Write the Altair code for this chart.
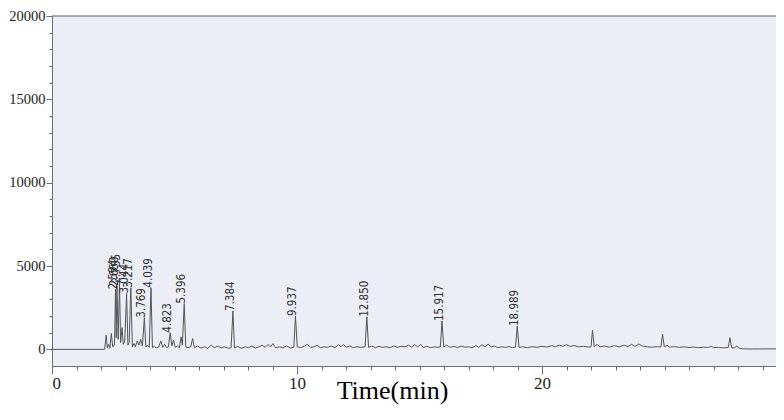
import altair as alt
import pandas as pd

# Labelled peaks (retention time, apex signal, printed label)
peak_rt = [2.594, 2.650, 2.755, 3.044, 3.217, 3.769, 4.039, 4.823, 5.396,
           7.384, 9.937, 12.850, 15.917, 18.989]
peak_height = [3600, 3800, 3950, 3350, 3700, 1900, 3700, 1000, 2750,
               2300, 2000, 1950, 1700, 1400]
peak_label = ["2.594", "2.650", "2.755", "3.044", "3.217", "3.769", "4.039",
              "4.823", "5.396", "7.384", "9.937", "12.850", "15.917", "18.989"]

# Remaining trace points (baseline, feet of peaks, small unlabelled peaks)
base_time = [0.0, 2.15, 2.21, 2.26, 2.31, 2.36, 2.42, 2.48, 2.55, 2.62, 2.70,
             2.80, 2.86, 2.91, 2.97, 3.10, 3.15, 3.28, 3.35, 3.40, 3.48, 3.55,
             3.62, 3.69, 3.83, 3.90, 3.97, 4.10, 4.18, 4.26, 4.36, 4.44, 4.52,
             4.60, 4.68, 4.75, 4.89, 4.96, 5.03, 5.12, 5.20, 5.27, 5.32, 5.46,
             5.55, 5.66, 5.74, 5.81, 5.95, 6.08, 6.22, 6.35, 6.50, 6.62, 6.78,
             6.90, 7.05, 7.20, 7.31, 7.45, 7.58, 7.72, 7.88, 8.02, 8.15, 8.30,
             8.45, 8.58, 8.70, 8.82, 8.92, 9.02, 9.12, 9.28, 9.42, 9.58, 9.72,
             9.87, 10.01, 10.15, 10.30, 10.42, 10.55, 10.70, 10.82, 10.95,
             11.10, 11.25, 11.40, 11.55, 11.70, 11.80, 11.90, 12.00, 12.15,
             12.30, 12.45, 12.60, 12.78, 12.92, 13.05, 13.20, 13.35, 13.50,
             13.65, 13.80, 13.95, 14.10, 14.25, 14.40, 14.55, 14.68, 14.80,
             14.92, 15.05, 15.15, 15.30, 15.45, 15.60, 15.75, 15.85, 15.99,
             16.10, 16.25, 16.40, 16.55, 16.70, 16.85, 17.00, 17.15, 17.30,
             17.42, 17.55, 17.68, 17.80, 17.92, 18.05, 18.20, 18.35, 18.50,
             18.65, 18.80, 18.92, 19.06, 19.20, 19.40, 19.60, 19.80, 20.00,
             20.20, 20.40, 20.55, 20.70, 20.85, 21.00, 21.15, 21.30, 21.50,
             21.70, 21.90, 22.00, 22.06, 22.13, 22.25, 22.35, 22.55, 22.75,
             22.95, 23.15, 23.35, 23.50, 23.65, 23.80, 23.95, 24.10, 24.30,
             24.50, 24.70, 24.85, 24.92, 24.99, 25.10, 25.20, 25.40, 25.60,
             25.80, 26.00, 26.20, 26.40, 26.60, 26.80, 26.90, 27.00, 27.20,
             27.40, 27.60, 27.67, 27.74, 27.85, 27.95, 28.05, 28.20, 28.60,
             29.55]
base_signal = [0, 0, 850, 80, 300, 60, 950, 150, 300, 700, 600,
               400, 1300, 300, 500, 250, 400, 150, 350, 150, 500, 250,
               600, 200, 150, 250, 120, 100, 180, 80, 150, 500, 120,
               300, 100, 150, 200, 550, 120, 200, 100, 750, 250, 150,
               100, 150, 650, 100, 200, 80, 150, 60, 250, 100, 200,
               80, 150, 60, 100, 80, 180, 60, 150, 100, 200, 80,
               150, 250, 120, 300, 150, 350, 100, 150, 100, 200, 80,
               120, 150, 100, 200, 300, 120, 150, 250, 100,
               150, 120, 200, 100, 280, 150, 300, 120, 200,
               100, 150, 120, 150, 120, 200, 100, 180, 120,
               150, 100, 200, 120, 180, 150, 250, 130, 280,
               150, 300, 120, 180, 100, 150, 120, 150, 130,
               250, 120, 180, 100, 200, 130, 150, 100, 220,
               120, 280, 150, 320, 140, 200, 100, 150, 120,
               160, 110, 130, 120, 150, 100, 160, 120, 180,
               140, 220, 160, 250, 180, 280, 170, 230, 150,
               180, 140, 150, 1150, 160, 300, 150, 200, 130,
               220, 150, 250, 160, 300, 180, 320, 200, 150,
               130, 160, 140, 900, 150, 250, 130, 160, 120,
               150, 110, 140, 100, 130, 110, 180, 100, 120,
               90, 110, 700, 100, 80, 200, 60, 30, 20,
               30]

y_ticks_major = [0, 5000, 10000, 15000, 20000]
y_ticks_minor = list(range(0, 20001, 1000))
x_ticks_major = [0, 10, 20]
x_ticks_minor = list(range(0, 30, 1))
top_frame = [20000]

trace = pd.DataFrame({"time": base_time + peak_rt,
                      "signal": base_signal + peak_height}).sort_values("time")
peaks = pd.DataFrame({"rt": peak_rt, "height": peak_height, "label": peak_label})
frame = pd.DataFrame({"v": top_frame})

xs = alt.Scale(domain=[0, 29.55], nice=False, zero=False)
ys = alt.Scale(domain=[-1000, 20000], nice=False, zero=False)

AX = "#6e6e78"
SERIF = "Liberation Serif"

x_major = alt.Axis(values=x_ticks_major, orient="bottom", tickSize=8, tickColor=AX,
                   domainColor=AX, grid=False, labelFont=SERIF, labelFontSize=17,
                   labelColor="#222222", labelPadding=1, format="d",
                   title="Time(min)", titleFont=SERIF, titleFontSize=26,
                   titleFontWeight="normal", titleColor="#000000",
                   titleX=340, titleY=32, titleAlign="center",
                   titleBaseline="alphabetic")
y_major = alt.Axis(values=y_ticks_major, orient="left", tickSize=6, tickColor=AX,
                   domainColor=AX, grid=False, labelFont=SERIF, labelFontSize=14.5,
                   labelColor="#222222", labelPadding=1, format="d", title="")
x_minor = alt.Axis(values=x_ticks_minor, orient="bottom", tickSize=4, tickColor=AX,
                   domain=False, labels=False, grid=False, title="")
y_minor = alt.Axis(values=y_ticks_minor, orient="left", tickSize=3, tickColor=AX,
                   domain=False, labels=False, grid=False, title="")

line = alt.Chart(trace).mark_line(color="#555555", strokeWidth=1).encode(
    x=alt.X("time:Q", scale=xs, axis=x_major),
    y=alt.Y("signal:Q", scale=ys, axis=y_major),
)
minor = alt.Chart(trace).mark_line(opacity=0).encode(
    x=alt.X("time:Q", scale=xs, axis=x_minor),
    y=alt.Y("signal:Q", scale=ys, axis=y_minor),
)
labels = alt.Chart(peaks).mark_text(
    angle=270, align="left", baseline="middle", dy=-2,
    font="Liberation Sans Narrow, DejaVu Sans Condensed, sans-serif",
    fontSize=11.5, color="#333333",
).encode(
    x=alt.X("rt:Q", scale=xs, axis=None),
    y=alt.Y("height:Q", scale=ys, axis=None),
    text="label:N",
)
top = alt.Chart(frame).mark_rule(color="#5a5a62", strokeWidth=1.2).encode(
    y=alt.Y("v:Q", scale=ys, axis=None),
)

chart = alt.layer(line, minor, labels, top).resolve_axis(
    x="independent", y="independent"
).properties(
    width=724, height=350,
    padding={"left": 44, "top": 8, "right": 0, "bottom": 42},
    autosize=alt.AutoSizeParams(type="none"),
    background="#ffffff",
).configure_view(fill="#eceef5", stroke="transparent")

chart.save("out.html", embed_options={"renderer": "svg", "actions": False})
